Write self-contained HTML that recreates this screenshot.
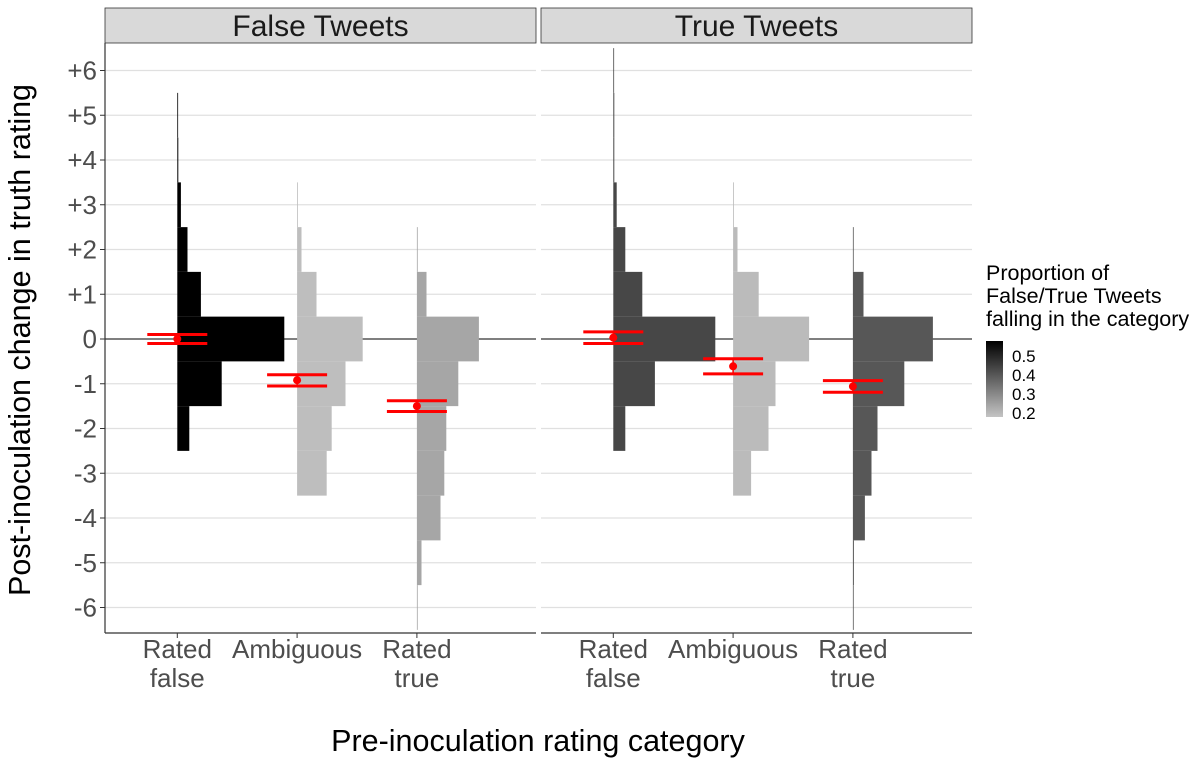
<!DOCTYPE html>
<html><head><meta charset="utf-8"><style>
body{margin:0;background:#fff}
svg text{font-family:"Liberation Sans",Arial,sans-serif}
</style></head><body>
<svg id="chart" width="1200" height="763" viewBox="0 0 1200 763" xmlns="http://www.w3.org/2000/svg">
<g id="g"></g>
</svg>
<script>
const categories = ["Rated false","Ambiguous","Rated true"];
const panels = ["False Tweets","True Tweets"];
const yTicks = [6,5,4,3,2,1,0,-1,-2,-3,-4,-5,-6];
const yTickLabels = ["+6","+5","+4","+3","+2","+1","0","-1","-2","-3","-4","-5","-6"];
const bins = [6,5,4,3,2,1,0,-1,-2,-3,-4,-5,-6];
// relative frequency per bin (order matches bins)
const falseRatedFalse = [0,0.003,0.005,0.018,0.051,0.118,0.535,0.222,0.06,0,0,0,0];
const falseAmbiguous  = [0,0,0,0.003,0.022,0.097,0.328,0.242,0.173,0.148,0,0,0];
const falseRatedTrue  = [0,0,0,0,0.003,0.048,0.31,0.207,0.147,0.137,0.118,0.023,0.003];
const trueRatedFalse  = [0.003,0.005,0.005,0.017,0.06,0.145,0.51,0.208,0.06,0,0,0,0];
const trueAmbiguous   = [0,0,0,0.003,0.022,0.128,0.38,0.212,0.177,0.09,0,0,0];
const trueRatedTrue   = [0,0,0,0,0.003,0.053,0.4,0.257,0.123,0.093,0.06,0.005,0.003];
const fills = [["#000000","#bebebe","#a6a6a6"],["#474747","#bbbbbb","#575757"]];
const means = [[0.0,-0.92,-1.5],[0.03,-0.61,-1.06]];
const ciHigh = [[0.1,-0.8,-1.38],[0.16,-0.44,-0.93]];
const ciLow = [[-0.1,-1.05,-1.62],[-0.1,-0.78,-1.19]];
const legendTicks = [0.5,0.4,0.3,0.2];

const NS="http://www.w3.org/2000/svg";
const g=document.getElementById('g');
function el(t,a,txt){const e=document.createElementNS(NS,t);for(const k in a)e.setAttribute(k,a[k]);if(txt!==undefined)e.textContent=txt;g.appendChild(e);return e;}
const y=v=>339-v*44.75;
const panelX=[105,541], panelW=431;
const catX=(p,i)=>panelX[p]+72.3+119.8*i;
const wScale=200;
const data=[[falseRatedFalse,falseAmbiguous,falseRatedTrue],[trueRatedFalse,trueAmbiguous,trueRatedTrue]];

for(let p=0;p<2;p++){
  const x0=panelX[p];
  let s=el('rect',{x:x0,y:8,width:panelW,height:35,fill:'#d9d9d9',stroke:'#333','stroke-width':0.8});
  
  
  let t=el('text',{x:x0+panelW/2,y:36,'text-anchor':'middle','font-size':30,fill:'#1a1a1a'},panels[p]);
  
  
  yTicks.forEach(v=>{
    let l=el('line',{x1:x0,x2:x0+panelW,y1:y(v),y2:y(v),stroke:v===0?'#555':'#e0e0e0','stroke-width':v===0?1.6:1.2});
    
    
  });
  for(let c=0;c<3;c++){
    const bx=catX(p,c);
    bins.forEach((b,k)=>{
      const v=data[p][c][k]; if(v<=0) return;
      let r=el('rect',{x:bx,y:y(b+0.5),width:Math.max(v*wScale,0.8),height:44.75,fill:fills[p][c]});
      
      
    });
  }
  for(let c=0;c<3;c++){
    const bx=catX(p,c);
    [ciHigh[p][c],ciLow[p][c]].forEach(v=>{
      let l=el('line',{x1:bx-30,x2:bx+30,y1:y(v),y2:y(v),stroke:'#ff0000','stroke-width':3});
      
      
    });
    let vl=el('line',{x1:bx,x2:bx,y1:y(ciHigh[p][c]),y2:y(ciLow[p][c]),stroke:'#ff0000','stroke-width':1.5});
    
    
    let pt=el('circle',{cx:bx,cy:y(means[p][c]),r:4,fill:'#ff0000'});
    
    
    let tk=el('line',{x1:bx,x2:bx,y1:633,y2:638,stroke:'#333','stroke-width':1});
    
    
    const words=categories[c]==="Ambiguous"?["Ambiguous"]:categories[c].split(" ");
    words.forEach((w,i)=>{
      let tl=el('text',{x:bx,y:658+i*29,'text-anchor':'middle','font-size':26,fill:'#4d4d4d'},w);
      
      
    });
  }
  let ax=el('line',{x1:x0,x2:x0+panelW,y1:633,y2:633,stroke:'#333','stroke-width':1.2});
  
  
}
let ya=el('line',{x1:105,x2:105,y1:43,y2:633,stroke:'#333','stroke-width':1.2});


yTicks.forEach((v,i)=>{
  let tk=el('line',{x1:100,x2:105,y1:y(v),y2:y(v),stroke:'#333','stroke-width':1});
  
  
  let tl=el('text',{x:97,y:y(v)+9,'text-anchor':'end','font-size':26,fill:'#4d4d4d'},yTickLabels[i]);
  
  
});
let yt=el('text',{x:0,y:0,'text-anchor':'middle','font-size':30.5,fill:'#000',transform:'translate(30,340) rotate(-90)'},'Post-inoculation change in truth rating');


let xt=el('text',{x:538,y:751,'text-anchor':'middle','font-size':30.5,fill:'#000'},'Pre-inoculation rating category');


// legend
['Proportion of','False/True Tweets','falling in the category'].forEach((s,i)=>{
  let lt=el('text',{x:986,y:280+i*23,'font-size':21.5,fill:'#000'},s);
  
  
});
const defs=document.createElementNS(NS,'defs');
defs.innerHTML='<linearGradient id="lg" x1="0" y1="0" x2="0" y2="1"><stop offset="0" stop-color="#000"/><stop offset="1" stop-color="#c4c4c4"/></linearGradient>';
document.getElementById('chart').insertBefore(defs,g);
let lb=el('rect',{x:986,y:341,width:17,height:76,fill:'url(#lg)'});


const ly=v=>356+(0.5-v)*190;
legendTicks.forEach(v=>{
  let lt=el('text',{x:1012,y:ly(v)+6,'font-size':17,fill:'#000'},v.toFixed(1));
  
  
});
</script>
</body></html>
